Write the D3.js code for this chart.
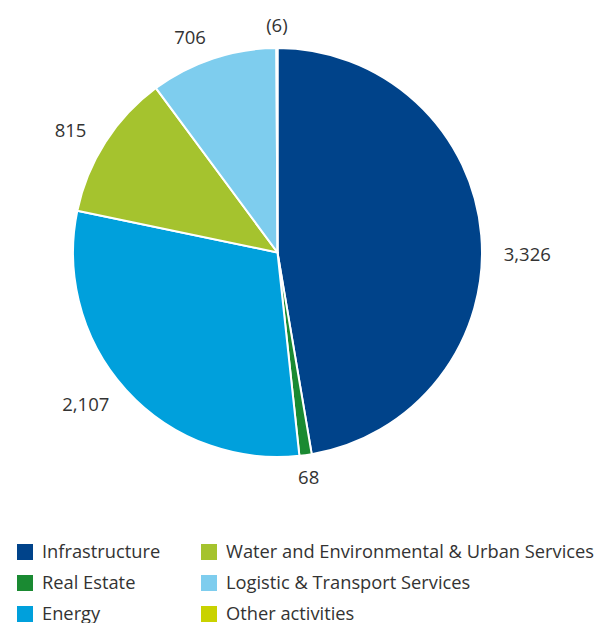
<!DOCTYPE html>
<html>
<head>
<meta charset="utf-8">
<script src="https://cdn.jsdelivr.net/npm/d3@7"></script>
<style>
  body { margin: 0; background: #fff; }
  svg text { font-family: "Open Sans", "Noto Sans", sans-serif; fill: #333; }
</style>
</head>
<body>
<svg id="chart" width="600" height="623"></svg>
<script>
// Portfolio by sector
const categories = ["Infrastructure", "Real Estate", "Energy", "Water and Environmental & Urban Services", "Logistic & Transport Services", "Other activities"];
const values = [3326, 68, 2107, 815, 706, -6];
const valueLabels = ["3,326", "68", "2,107", "815", "706", "(6)"];
const colors = ["#00438a", "#1a8a32", "#00a0dc", "#a5c32e", "#7ecdee", "#c9d200"];

const svg = d3.select("#chart");
const cx = 277.5, cy = 252.5, radius = 204.5;

const pie = d3.pie().sort(null).value(d => Math.abs(d.value));
const data = categories.map((c, i) => ({ name: c, value: values[i], label: valueLabels[i], color: colors[i] }));
const arcs = pie(data);

const arc = d3.arc().innerRadius(0).outerRadius(radius);
const g = svg.append("g").attr("transform", `translate(${cx},${cy})`);

g.selectAll("path.slice")
  .data(arcs)
  .join("path")
  .attr("class", "slice")
  .attr("d", arc)
  .attr("fill", d => d.data.color)
  .attr("stroke", "#fff")
  .attr("stroke-width", 2)
  .attr("stroke-linejoin", "round");

// Value labels just outside the rim
const labelR = 227;
const nudge = { "Infrastructure": 21 };
g.selectAll("text.value")
  .data(arcs)
  .join("text")
  .attr("class", "value")
  .each(function(d) {
    const a = (d.startAngle + d.endAngle) / 2;
    const x = labelR * Math.sin(a);
    const y = -labelR * Math.cos(a) + (nudge[d.data.name] || 0);
    const s = Math.sin(a);
    const anchor = s > 0.3 ? "start" : (s < -0.3 ? "end" : "middle");
    d3.select(this)
      .attr("x", x)
      .attr("y", y)
      .attr("dy", "0.35em")
      .attr("text-anchor", anchor);
  })
  .style("font-size", "18.5px")
  .text(d => d.data.label);

// Legend in two columns
const colX = [17, 201];
const rowY = [552, 583, 614];
const lg = svg.append("g");
data.forEach((d, i) => {
  const col = Math.floor(i / 3), row = i % 3;
  const item = lg.append("g").attr("transform", `translate(${colX[col]},${rowY[row]})`);
  item.append("rect").attr("x", 0).attr("y", -8).attr("width", 16).attr("height", 16).attr("fill", d.color);
  item.append("text").attr("x", 25).attr("y", 0).attr("dy", "0.35em")
    .style("font-size", "18.3px").text(d.name);
});
</script>
</body>
</html>
